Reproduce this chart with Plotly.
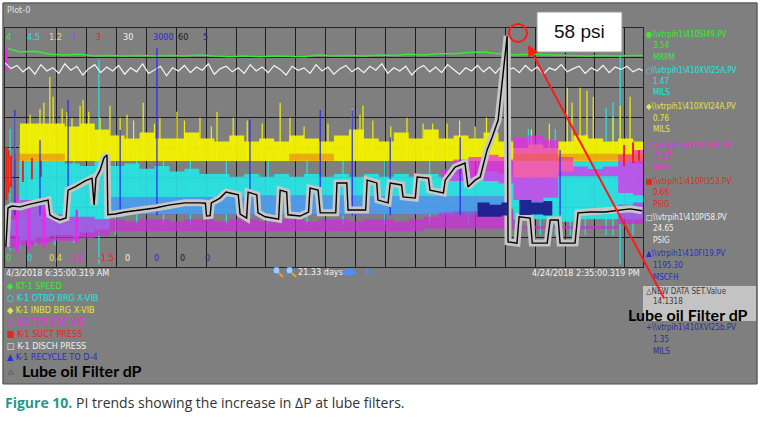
import plotly.graph_objects as go

W, H = 760, 426
def px(x): return x / W
def py(y): return 1 - y / H

# ---------------- time axis: days after 4/3/2018 6:35:00 AM ----------------
SPAN = 21.333
FIRST_MIDNIGHT = 0.7257
t02 = [round(0.2 * k, 2) for k in range(107)] + [SPAN]
t05 = [0.5 * k for k in range(43)] + [SPAN]

# ---------------- scale ranges (bottom, top) ----------------
rng_speed = [0, 4]
rng_otbd = [0, 4.5]
rng_inbd = [0.4, 1.2]
rng_thr = [-11, -1]
rng_suct = [-1.5, 3]
rng_disch = [0, 30]
rng_recycle = [0, 3000]
rng_dp = [0, 60]
rng_otbd_b = [0, 5]
scale_top = ["4", "4.5", "1.2", "-1", "3", "30", "3000", "60", "5"]
scale_bottom = ["0", "0", "0.4", "-11", "-1.5", "0", "0", "0", "0"]

# ---------------- series ----------------
speed = [3.67, 3.60, 3.61, 3.56, 3.55, 3.56, 3.53, 3.54, 3.53, 3.54,
         3.53, 3.54, 3.53, 3.55, 3.53, 3.52, 3.53, 3.52, 3.53, 3.53,
         3.52, 3.55, 3.53, 3.54, 3.53, 3.55, 3.54, 3.56, 3.55, 3.57,
         3.57, 3.59, 3.60, 3.57, 3.55, 3.56, 3.55, 3.55, 3.54, 3.53,
         3.54, 3.53, 3.54, 3.54]

disch = [25.6, 24.9, 25.3, 24.5, 25.1, 24.2, 25.4, 24.6, 25.0, 24.3,
         25.5, 24.7, 25.2, 24.1, 24.9, 25.4, 24.4, 25.1, 24.6, 25.3,
         24.2, 25.0, 24.5, 25.5, 24.3, 24.8, 25.2, 24.0, 25.0, 24.6,
         25.3, 24.4, 25.1, 24.7, 25.5, 24.2, 24.9, 25.2, 24.5, 25.0,
         24.3, 25.4, 24.6, 25.1, 24.4, 25.3, 24.8, 24.1, 25.2, 24.7,
         25.0, 24.3, 25.4, 24.6, 25.1, 24.2, 24.9, 25.3, 24.5, 25.0,
         24.4, 25.2, 24.7, 25.5, 24.3, 25.0, 24.6, 25.2, 24.1, 24.9,
         25.3, 24.5, 25.1, 24.4, 25.4, 24.8, 24.2, 25.0, 24.6, 25.3,
         24.5, 25.1, 24.3, 25.2, 24.7, 25.0, 24.4, 25.3, 24.6, 25.1,
         24.2, 25.0, 24.7, 25.4, 24.5, 24.9, 25.2, 24.3, 25.0, 24.6,
         25.3, 24.4, 25.1, 24.8, 25.2, 24.5, 24.9, 24.65]

inbd_upper = [0.76, 0.88, 0.88, 0.88, 0.87, 0.88, 0.86, 0.84, 0.83, 0.85,
              0.83, 0.83, 0.85, 0.83, 0.82, 0.84, 0.82, 0.83, 0.82, 0.84,
              0.83, 0.82, 0.84, 0.86, 0.83, 0.82, 0.85, 0.83, 0.86, 0.83,
              0.84, 0.83, 0.85, 0.82, 0.80, 0.81, 0.80, 0.82, 0.84, 0.83,
              0.82, 0.83, 0.82, 0.82]
inbd_lower = [0.76, 0.755, 0.755, 0.755, 0.755, 0.755, 0.755, 0.755, 0.755, 0.755,
              0.755, 0.755, 0.755, 0.755, 0.755, 0.755, 0.755, 0.755, 0.755, 0.755,
              0.755, 0.755, 0.755, 0.755, 0.755, 0.755, 0.755, 0.755, 0.755, 0.755,
              0.755, 0.755, 0.755, 0.755, 0.70, 0.70, 0.70, 0.72, 0.755, 0.755,
              0.755, 0.755, 0.755, 0.755]
inbd_spike_days = [0.33, 0.84, 1.17, 1.50, 1.61, 1.91, 2.07, 2.24, 2.51, 2.61,
                   3.18, 3.51, 3.85, 4.08, 4.62, 5.18, 5.75, 6.52, 7.09, 7.63,
                   9.20, 9.53, 11.61, 11.87, 11.97, 13.44, 13.98, 14.78, 15.72, 18.80,
                   18.96, 19.23, 19.46, 19.67, 20.33, 20.57, 20.90,
                   1.30, 2.80, 4.30, 5.00, 6.00, 6.90, 8.10, 8.60, 10.00, 10.80,
                   12.30, 12.90, 14.30, 15.20, 16.10, 17.60, 18.20]
inbd_spike_tops = [0.90, 0.91, 0.93, 1.036, 0.97, 0.93, 0.92, 0.90, 0.94, 0.96,
                   0.90, 0.94, 0.90, 0.91, 0.95, 0.90, 0.92, 0.90, 0.92, 0.90,
                   0.95, 0.90, 0.93, 0.91, 0.94, 0.90, 0.88, 0.88, 0.87, 1.00,
                   0.95, 1.00, 0.99, 0.97, 0.90, 0.94, 0.97,
                   0.95, 0.92, 0.89, 0.88, 0.89, 0.87, 0.89, 0.88, 0.87, 0.88,
                   0.89, 0.87, 0.88, 0.89, 0.90, 0.86, 0.88]
inbd_floor = 0.76

otbd_upper = [0.9, 2.0, 2.0, 2.0, 1.95, 1.9, 2.0, 1.9, 1.95, 1.85,
              1.9, 1.8, 1.85, 1.75, 1.75, 1.7, 1.75, 1.7, 1.75, 1.7,
              1.75, 1.7, 1.75, 1.7, 1.75, 1.7, 1.75, 1.7, 1.75, 1.7,
              1.75, 1.7, 1.8, 1.75, 2.0, 2.05, 2.0, 2.0, 2.05, 2.0,
              2.05, 2.0, 1.95, 1.95]
otbd_lower = [0.6, 0.5, 0.55, 0.6, 0.6, 0.65, 0.7, 0.95, 1.0, 1.0,
              1.0, 1.0, 1.0, 1.0, 1.0, 1.0, 1.0, 1.0, 1.0, 1.0,
              1.0, 1.0, 1.0, 1.0, 1.0, 1.0, 1.0, 1.0, 1.0, 1.0,
              1.05, 1.05, 1.1, 1.1, 0.9, 0.9, 0.9, 0.85, 0.9, 0.9,
              0.9, 0.9, 0.9, 0.9]
otbd_spike_days = [0.17, 0.50, 1.00, 1.67, 2.30, 3.14, 3.70, 4.40, 5.30, 6.20,
                   7.40, 8.80, 10.10, 11.30, 12.70, 14.20, 15.50, 17.50, 17.90, 18.40,
                   18.90, 19.40, 20.10, 20.33, 20.57, 21.00]
otbd_spike_low = [0.30, 0.35, 0.40, 0.40, 0.45, 0.05, 0.60, 0.80, 0.80, 0.80,
                  0.80, 0.80, 0.80, 0.80, 0.80, 0.80, 0.80, 0.60, 0.60, 0.60,
                  0.60, 0.60, 0.60, 0.60, 0.05, 0.60]
otbd_spike_high = [2.60, 2.30, 2.50, 2.40, 2.30, 3.90, 2.50, 2.30, 2.20, 2.10,
                   2.10, 2.20, 2.10, 2.00, 2.20, 2.10, 2.30, 2.60, 2.40, 2.60,
                   2.30, 2.50, 3.00, 3.10, 4.00, 2.40]

thr_low_upper = [-8.4, -8.2, -8.4, -8.8, -8.9, -8.9, -9.0, -9.0, -9.1, -9.0,
                 -9.0, -9.1, -9.0, -9.0, -9.1, -9.0, -9.0, -9.1, -9.0, -9.0,
                 -9.1, -9.0, -9.0, -9.1, -9.0, -9.0, -9.1, -9.0, -8.9, -8.7,
                 -8.7, -8.7, -8.7, -8.7, -9.3, -9.3, -9.3, -9.3, -9.3, -9.3,
                 -9.3, -8.4, -8.3, -8.4]
thr_low_lower = [-10.2, -10.1, -10.0, -9.9, -9.9, -9.8, -9.7, -9.5, -9.5, -9.5,
                 -9.5, -9.5, -9.5, -9.5, -9.5, -9.5, -9.5, -9.5, -9.5, -9.5,
                 -9.5, -9.5, -9.5, -9.5, -9.5, -9.5, -9.5, -9.5, -9.4, -9.4,
                 -9.4, -9.4, -9.4, -9.4, -9.4, -9.4, -9.4, -9.4, -9.4, -9.4,
                 -9.4, -9.2, -9.2, -9.2]
thr_mid_days = [14.6, 15.0, 15.5, 16.0, 16.5, 16.8, 17.0, 17.5, 18.0, 18.5, 19.0, 19.5, 20.0, 20.5, 21.0, 21.333]
thr_mid_upper = [-6.9, -6.5, -6.4, -6.3, -6.4, -6.5, -5.6, -5.5, -5.7, -6.4, -6.8, -6.9, -6.8, -6.3, -6.1, -6.2]
thr_mid_lower = [-7.4, -7.4, -7.3, -7.4, -7.5, -7.5, -8.2, -8.3, -8.1, -7.2, -7.2, -7.2, -7.2, -7.9, -8.0, -7.9]
thr_spike_days = [0.05, 0.40, 0.80, 1.30, 2.40]
thr_spike_low = [-2.8, -10.4, -10.3, -10.2, -10.0]
thr_spike_high = [-1.8, -8.0, -8.2, -8.5, -8.6]

suct_band_days = [0.0, 0.3, 2.0, 9.5, 11.0, 17.0, 21.333]
suct_band_upper = [0.52, 0.63, 0.52, 0.63, 0.52, 0.63, 0.63]
suct_band_lower = [0.52, 0.50, 0.52, 0.50, 0.52, 0.50, 0.50]
suct_spike_days = [0.05, 0.12, 0.20, 0.60, 0.90, 1.20, 20.70, 21.00, 21.20]
suct_spike_low = [-0.24, -0.10, 0.00, 0.10, 0.15, 0.20, 0.40, 0.45, 0.50]
suct_spike_high = [0.76, 0.70, 0.60, 0.50, 0.55, 0.50, 0.80, 0.85, 0.70]

recycle_band_days = [0.0, 3.5, 8.0, 12.0, 16.7, 16.8, 21.333]
recycle_band_upper = [650, 880, 900, 890, 920, 650, 650]
recycle_band_lower = [650, 660, 650, 660, 650, 650, 650]
recycle_spike_days = [0.33, 1.17, 2.11, 3.85, 5.08, 8.19, 10.54, 11.61, 12.88, 15.22, 18.56]
recycle_spike_tops = [1970, 1590, 2100, 1720, 2750, 1850, 1970, 1970, 1630, 1630, 1470]
recycle_floor = 650

otbdb_days = [15.8, 16.2, 16.6, 16.8, 17.2, 17.6, 18.0, 18.3, 21.333]
otbdb_upper = [1.35, 1.30, 1.35, 1.0, 1.40, 1.35, 1.38, 1.0, 1.0]
otbdb_lower = [1.05, 1.05, 1.08, 1.0, 1.09, 1.10, 1.08, 1.0, 1.0]

dp_days = [0.03, 0.10, 0.23, 0.50, 0.84, 1.17, 1.44, 1.50, 1.67, 1.84,
           2.04, 2.11, 2.34, 2.68, 2.91, 2.98, 3.04, 3.18, 3.31, 3.41,
           3.44, 3.68, 4.01, 4.52, 5.02, 5.52, 6.02, 6.52, 6.70, 6.74, 6.86, 6.90,
           7.19, 7.39, 7.80, 7.86, 8.08, 8.13, 8.42, 8.46, 8.70, 9.15,
           9.20, 9.42, 9.46, 9.87, 10.15, 10.20, 10.47, 10.54, 11.06, 11.10,
           11.43, 11.47, 12.06, 12.11, 12.43, 12.47, 12.81, 12.88, 13.26, 13.31,
           13.72, 13.78, 14.16, 14.21, 14.66, 14.72, 14.95, 15.05, 15.38, 15.48,
           15.72, 15.89, 16.12, 16.29, 16.49, 16.62, 16.72, 16.79, 16.82, 17.12,
           17.19, 17.56, 17.63, 18.13, 18.23, 18.50, 18.56, 19.06, 19.16, 19.57,
           20.07, 20.57, 20.90, 21.30]
dp_psi = [5.0, 14.8, 15.3, 15.1, 15.8, 16.3, 16.8, 13.1, 12.3, 11.8,
          12.3, 19.3, 20.1, 21.6, 22.3, 15.6, 22.3, 24.3, 27.4, 28.1,
          13.1, 13.3, 13.8, 14.3, 14.8, 15.6, 16.1, 16.1, 16.0, 12.8, 12.9, 16.1,
          17.3, 18.8, 18.1, 13.3, 12.3, 18.8, 18.1, 13.6, 12.6, 12.0,
          19.3, 18.8, 13.1, 12.8, 13.8, 19.8, 19.3, 13.6, 13.6, 21.1,
          21.1, 14.3, 14.3, 21.8, 21.1, 16.8, 16.1, 21.1, 20.6, 17.6,
          17.3, 22.6, 22.3, 19.3, 18.6, 21.8, 24.3, 25.1, 26.1, 20.1,
          21.8, 22.6, 29.4, 32.6, 36.9, 46.2, 54.5, 58.0, 6.3, 6.0,
          12.6, 12.3, 6.0, 6.0, 11.8, 11.8, 6.0, 6.0, 13.6, 13.8,
          13.8, 14.3, 14.6, 14.13]

# ---------------- legend texts ----------------
C_GREEN, C_CYAN, C_YEL, C_MAG = "#35ec35", "#26e4e4", "#f2f200", "#ee26ee"
C_RED, C_WHITE, C_BLUE, C_BLACK, C_NAVY = "#e8261e", "#f6f6f6", "#2a2ae6", "#000000", "#22228e"
label_colors = [C_GREEN, C_CYAN, "#e4e44a", C_MAG, C_RED, "#f0f0f0", "#2a2ad8", "#1a1a1a", "#26269a"]

bottom_legend = ["◆ KT-1 SPEED", "○ K-1 OTBD BRG X-VIB", "◆ K-1 INBD BRG X-VIB",
                 "○ K-1 THR BRG VIB", "■ K-1 SUCT PRESS", "□ K-1 DISCH PRESS",
                 "▲ K-1 RECYCLE TO D-4"]
bottom_legend_colors = [C_GREEN, C_CYAN, "#e4e44a", C_MAG, C_RED, "#f0f0f0", "#2a2ad8"]

tag_symbols = ["●", "○", "◆", "○", "■", "□", "▲"]
tag_names = [r"\\vtrpih1\410SI49.PV", r"\\vtrpih1\410XVI25A.PV", r"\\vtrpih1\410XVI24A.PV",
             r"\\vtrpih1\410XVI26.PV", r"\\vtrpih1\410PI353.PV", r"\\vtrpih1\410PI58.PV",
             r"\\vtrpih1\410FI19.PV"]
tag_values = ["3.54", "1.47", "0.76", "-7.17", "0.66", "24.65", "1195.30"]
tag_units = ["MRPM", "MILS", "MILS", "MILS", "PSIG", "PSIG", "MSCFH"]

# ---------------- figure ----------------
fig = go.Figure()

def add_band(t, lo, hi, color, yax):
    fig.add_trace(go.Scatter(x=t, y=lo, yaxis=yax, mode="lines",
                             line=dict(width=0, shape="hv"), hoverinfo="skip"))
    fig.add_trace(go.Scatter(x=t, y=hi, yaxis=yax, mode="lines",
                             line=dict(width=0, shape="hv"), fill="tonexty",
                             fillcolor=color, hoverinfo="skip"))

def add_spikes(days, lo, hi, color, yax, width=1.2):
    xs, ys = [], []
    for d, a, b in zip(days, lo, hi):
        xs += [d, d, None]
        ys += [a, b, None]
    fig.add_trace(go.Scatter(x=xs, y=ys, yaxis=yax, mode="lines",
                             line=dict(color=color, width=width), hoverinfo="skip"))

# base axis 'y' holds the grid (0-60 psi, 8 divisions)
fig.add_trace(go.Scatter(x=[0, SPAN], y=[None, None], yaxis="y", mode="lines", hoverinfo="skip"))
add_band(t05, otbd_lower, otbd_upper, "rgba(38,228,228,0.92)", "y3")
add_band(recycle_band_days, recycle_band_lower, recycle_band_upper, "rgba(100,110,235,0.6)", "y8")
add_band(t05, thr_low_lower, thr_low_upper, "rgba(210,40,225,0.7)", "y5")
add_band(otbdb_days, otbdb_lower, otbdb_upper, "rgba(28,28,140,0.95)", "y10")
add_spikes(otbd_spike_days, otbd_spike_low, otbd_spike_high, C_CYAN, "y3")
add_band(t05, inbd_lower, inbd_upper, "rgba(242,242,0,0.95)", "y4")
add_band(suct_band_days, suct_band_lower, suct_band_upper, "rgba(235,90,30,0.45)", "y6")
add_band(thr_mid_days, thr_mid_lower, thr_mid_upper, "rgba(238,38,238,0.72)", "y5")
add_spikes(inbd_spike_days, [inbd_floor] * len(inbd_spike_days), inbd_spike_tops, C_YEL, "y4")
add_spikes(recycle_spike_days, [recycle_floor] * len(recycle_spike_days), recycle_spike_tops, C_BLUE, "y8")
add_spikes(suct_spike_days, suct_spike_low, suct_spike_high, C_RED, "y6", 2)
add_spikes(thr_spike_days, thr_spike_low, thr_spike_high, C_MAG, "y5", 2.5)

fig.add_trace(go.Scatter(x=dp_days, y=dp_psi, yaxis="y9", mode="lines",
                         line=dict(color="#c6c6c6", width=7), hoverinfo="skip"))
fig.add_trace(go.Scatter(x=dp_days, y=dp_psi, yaxis="y9", mode="lines",
                         line=dict(color=C_BLACK, width=1.4), hoverinfo="skip"))
fig.add_trace(go.Scatter(x=t02, y=disch, yaxis="y7", mode="lines",
                         line=dict(color=C_WHITE, width=1.2), hoverinfo="skip"))
fig.add_trace(go.Scatter(x=t05, y=speed, yaxis="y2", mode="lines",
                         line=dict(color=C_GREEN, width=1.5), hoverinfo="skip"))

GRID = "#1e1e1e"
YDOM = [py(267), py(28)]
layout = dict(
    width=W, height=H, margin=dict(l=0, r=0, t=0, b=0), autosize=False,
    paper_bgcolor="#7f7f7f", plot_bgcolor="#7f7f7f", showlegend=False,
    xaxis=dict(domain=[px(5), px(643)], range=[0, SPAN], anchor="y",
               tickvals=[FIRST_MIDNIGHT + k for k in range(21)],
               showticklabels=False, ticks="", showgrid=True, gridcolor=GRID,
               gridwidth=1, zeroline=False, showline=True, mirror=True,
               linecolor="#262626", linewidth=1, fixedrange=True),
    yaxis=dict(domain=YDOM, range=rng_dp, tick0=0, dtick=7.5, anchor="x",
               showticklabels=False, ticks="", showgrid=True, gridcolor=GRID,
               gridwidth=1, zeroline=False, showline=True, mirror=True,
               linecolor="#262626", linewidth=1, fixedrange=True),
)
for i, r in zip(range(2, 11), [rng_speed, rng_otbd, rng_inbd, rng_thr, rng_suct,
                               rng_disch, rng_recycle, rng_dp, rng_otbd_b]):
    layout["yaxis%d" % i] = dict(overlaying="y", anchor="x", domain=YDOM, range=r,
                                 showgrid=False, showticklabels=False, showline=False,
                                 zeroline=False, ticks="", fixedrange=True)
fig.update_layout(**layout)

# ---------------- shapes ----------------
shapes = [
    dict(type="rect", xref="paper", yref="paper", x0=0, x1=1, y0=0, y1=py(384),
         fillcolor="white", line=dict(width=0), layer="below"),
    dict(type="rect", xref="paper", yref="paper", x0=0, x1=px(2.5), y0=0, y1=1,
         fillcolor="white", line=dict(width=0), layer="below"),
    dict(type="rect", xref="paper", yref="paper", x0=px(757.5), x1=1, y0=0, y1=1,
         fillcolor="white", line=dict(width=0), layer="below"),
    dict(type="rect", xref="paper", yref="paper", x0=0, x1=1, y0=py(2.5), y1=1,
         fillcolor="white", line=dict(width=0), layer="below"),
    dict(type="rect", xref="paper", yref="paper", x0=px(3), x1=px(757), y0=py(384), y1=py(3),
         fillcolor="rgba(0,0,0,0)", line=dict(color="#505050", width=1), layer="below"),
    dict(type="rect", xref="paper", yref="paper", x0=px(643), x1=px(756), y0=py(321), y1=py(286),
         fillcolor="#c3c3c3", line=dict(width=0), layer="above"),
    dict(type="rect", xref="paper", yref="paper", x0=px(537), x1=px(622), y0=py(52), y1=py(12),
         fillcolor="white", line=dict(color="#9a9a9a", width=1), layer="above"),
    dict(type="circle", xref="paper", yref="paper", x0=px(509), x1=px(527), y0=py(42), y1=py(24),
         line=dict(color="#ff1a1a", width=2), layer="above"),
    dict(type="circle", xref="paper", yref="paper", x0=px(273), x1=px(280), y0=py(274), y1=py(267),
         fillcolor="#a8cdf4", line=dict(color="#4d86d6", width=1)),
    dict(type="line", xref="paper", yref="paper", x0=px(279), x1=px(283), y0=py(273), y1=py(277),
         line=dict(color="#f0a030", width=2)),
    dict(type="circle", xref="paper", yref="paper", x0=px(286), x1=px(293), y0=py(274), y1=py(267),
         fillcolor="#a8cdf4", line=dict(color="#4d86d6", width=1)),
    dict(type="line", xref="paper", yref="paper", x0=px(292), x1=px(296), y0=py(273), y1=py(277),
         line=dict(color="#f0a030", width=2)),
]
fig.update_layout(shapes=shapes)

# ---------------- annotations ----------------
NARROW = "Liberation Sans Narrow, DejaVu Sans Condensed, Liberation Sans, Arial"
ann = []
def txt(x, y, s, color, size=9, anchor="left", family=NARROW, **kw):
    ann.append(dict(x=px(x), y=py(y), xref="paper", yref="paper", text=s, showarrow=False,
                    xanchor=anchor, yanchor="middle", borderpad=0,
                    font=dict(family=family, size=size, color=color), **kw))

txt(6, 10, "Plot-0", "#e2e2e2", 9)

top_x = [8, 33, 56, 73, 99, 128, 163, 183, 205]
bot_x = [8, 29, 56, 76, 106, 127, 156, 182, 207]
for x, s, c in zip(top_x, scale_top, label_colors):
    txt(x, 37, s, c, 9, "center")
for x, s, c in zip(bot_x, scale_bottom, label_colors):
    txt(x, 258, s, c, 9, "center")

txt(5, 273, "4/3/2018 6:35:00.319 AM", "#f2f2f2", 9)
txt(641, 273, "4/24/2018 2:35:00.319 PM", "#f2f2f2", 9, "right")
txt(297, 272, "21.33 days", "#f2f2f2", 9)
txt(340, 271, "◀▶", "#4f8ef7", 11, family="DejaVu Sans")
txt(364, 272, "↻", "#4f8ef7", 11, family="DejaVu Sans")

legend_y = [286, 298, 310, 322, 334, 346, 357]
for y, s, c in zip(legend_y, bottom_legend, bottom_legend_colors):
    txt(6, y, s, c, 9)
txt(7, 372, "△", "#303030", 7, family="DejaVu Sans")
txt(21, 370, "<b>Lube oil Filter dP</b>", "#000000", 16, family="Lato")

group_y = [34, 70, 107, 145, 181, 217, 254]
for y, sym, name, val, unit, c in zip(group_y, tag_symbols, tag_names, tag_values, tag_units, label_colors[:7]):
    txt(645, y, sym + name, c, 8)
    txt(652, y + 11.5, val, c, 8)
    txt(652, y + 23, unit, c, 8)
txt(645, 291, "△NEW DATA SET.Value", "#3c3c3c", 8)
txt(652, 301, "14.1318", "#3c3c3c", 8)
txt(627, 314, "<b>Lube oil Filter dP</b>", "#000000", 16, family="Lato")
txt(645, 327, "+" + r"\\vtrpih1\410XVI25b.PV", "#2b2ba0", 8)
txt(652, 339, "1.35", "#2b2ba0", 8)
txt(652, 351, "MILS", "#2b2ba0", 8)

txt(579, 32, "58 psi", "#111111", 19, "center", family="Liberation Sans, Arial")

ann.append(dict(x=px(528), y=py(45), xref="paper", yref="paper", text="", showarrow=True,
                ax=137, ay=255, arrowhead=2, arrowsize=1.1, arrowwidth=2,
                arrowcolor="#ff1a1a", standoff=0))

txt(4, 402, "<b><span style='color:#1e9a8a'>Figure 10.</span></b> PI trends showing the increase in ΔP at lube filters.",
    "#333333", 14, family="Open Sans")

fig.update_layout(annotations=ann)
fig.write_html("out.html", config={"displayModeBar": False},
               post_script="document.body.style.margin='0';document.body.style.overflow='hidden';")
